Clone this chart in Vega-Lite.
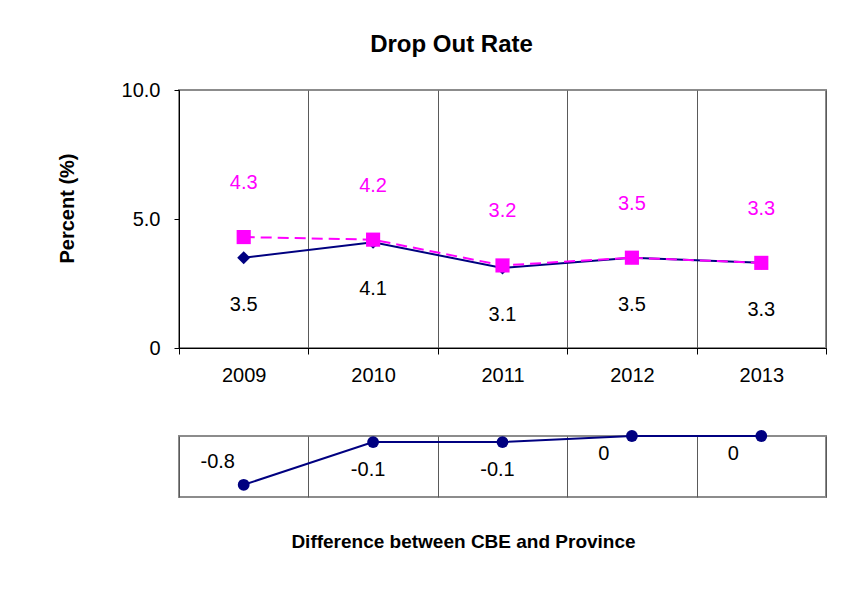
{
  "$schema": "https://vega.github.io/schema/vega-lite/v6.json",
  "background": "white",
  "padding": {"left": 56, "top": 32, "right": 30, "bottom": 10},
  "config": {
    "font": "Liberation Sans",
    "view": {"stroke": "#8c8c8c", "strokeWidth": 2},
    "title": {"font": "Liberation Sans", "color": "black"},
    "axis": {"labelFont": "Liberation Sans", "titleFont": "Liberation Sans", "labelColor": "black", "titleColor": "black"}
  },
  "datasets": {
    "rates": [
      {"year": "2009", "cbe": 3.5, "province": 4.3, "diff": -0.8},
      {"year": "2010", "cbe": 4.1, "province": 4.2, "diff": -0.1},
      {"year": "2011", "cbe": 3.1, "province": 3.2, "diff": -0.1},
      {"year": "2012", "cbe": 3.5, "province": 3.5, "diff": 0},
      {"year": "2013", "cbe": 3.3, "province": 3.3, "diff": 0}
    ]
  },
  "spacing": 43,
  "vconcat": [
    {
      "width": 647,
      "height": 258,
      "title": {"text": "Drop Out Rate", "fontSize": 24, "fontWeight": "bold", "offset": 23, "anchor": "middle", "frame": "group", "dx": -51},
      "data": {"name": "rates"},
      "encoding": {
        "x": {
          "field": "year", "type": "ordinal",
          "scale": {"paddingInner": 0, "paddingOuter": 0},
          "axis": {
            "orient": "bottom", "title": null, "labelAngle": 0, "labelFontSize": 20, "labelPadding": 11,
            "tickBand": "extent", "tickSize": 6, "tickColor": "black", "domainColor": "black",
            "grid": true, "gridColor": "#5a5a5a", "gridWidth": 1
          }
        }
      },
      "layer": [
        {
          "mark": {"type": "line", "color": "#000080", "strokeWidth": 2},
          "encoding": {
            "y": {
              "field": "cbe", "type": "quantitative", "title": "Percent (%)",
              "scale": {"domain": [0, 10]},
              "axis": {
                "values": [0, 5, 10],
                "labelExpr": "datum.value == 0 ? '0' : format(datum.value, '.1f')",
                "labelFontSize": 20, "labelPadding": 14, "tickSize": 5, "tickColor": "black", "domainColor": "black",
                "grid": false, "titleFontSize": 20, "titleFontWeight": "bold", "titlePadding": 44, "titleY": 118
              }
            }
          }
        },
        {
          "mark": {"type": "point", "shape": "diamond", "filled": true, "color": "#000080", "size": 170, "opacity": 1},
          "encoding": {"y": {"field": "cbe", "type": "quantitative", "title": "Percent (%)"}}
        },
        {
          "mark": {"type": "line", "color": "#ff00ff", "strokeWidth": 2, "strokeDash": [11, 6]},
          "encoding": {"y": {"field": "province", "type": "quantitative", "title": "Percent (%)"}}
        },
        {
          "mark": {"type": "point", "shape": "square", "filled": true, "color": "#ff00ff", "size": 200, "opacity": 1},
          "encoding": {"y": {"field": "province", "type": "quantitative", "title": "Percent (%)"}}
        },
        {
          "mark": {"type": "text", "color": "#ff00ff", "fontSize": 20, "dy": -54},
          "encoding": {
            "y": {"field": "province", "type": "quantitative", "title": "Percent (%)"},
            "text": {"field": "province", "type": "nominal"}
          }
        },
        {
          "mark": {"type": "text", "color": "black", "fontSize": 20, "dy": 47},
          "encoding": {
            "y": {"field": "cbe", "type": "quantitative", "title": "Percent (%)"},
            "text": {"field": "cbe", "type": "nominal"}
          }
        }
      ]
    },
    {
      "width": 647,
      "height": 61,
      "title": {"text": "Difference between CBE and Province", "orient": "bottom", "fontSize": 19, "fontWeight": "bold", "offset": 36, "anchor": "middle", "frame": "group", "dx": -39},
      "data": {"name": "rates"},
      "encoding": {
        "x": {
          "field": "year", "type": "ordinal",
          "scale": {"paddingInner": 0, "paddingOuter": 0},
          "axis": {
            "title": null, "labels": false, "ticks": false, "domain": false,
            "tickBand": "extent", "grid": true, "gridColor": "#5a5a5a", "gridWidth": 1
          }
        },
        "y": {"field": "diff", "type": "quantitative", "scale": {"domain": [-1, 0]}, "axis": null}
      },
      "layer": [
        {"mark": {"type": "line", "color": "#000080", "strokeWidth": 2}},
        {"mark": {"type": "point", "shape": "circle", "filled": true, "color": "#000080", "size": 140, "opacity": 1}},
        {
          "transform": [{"filter": "datum.diff < -0.5"}],
          "mark": {"type": "text", "color": "black", "fontSize": 20, "dy": -23, "dx": -26},
          "encoding": {"text": {"field": "diff", "type": "nominal"}}
        },
        {
          "transform": [{"filter": "datum.diff >= -0.5 && datum.diff < 0"}],
          "mark": {"type": "text", "color": "black", "fontSize": 20, "dy": 28, "dx": -5},
          "encoding": {"text": {"field": "diff", "type": "nominal"}}
        },
        {
          "transform": [{"filter": "datum.diff == 0"}],
          "mark": {"type": "text", "color": "black", "fontSize": 20, "dy": 18, "dx": -28},
          "encoding": {"text": {"field": "diff", "type": "nominal"}}
        }
      ]
    }
  ]
}
